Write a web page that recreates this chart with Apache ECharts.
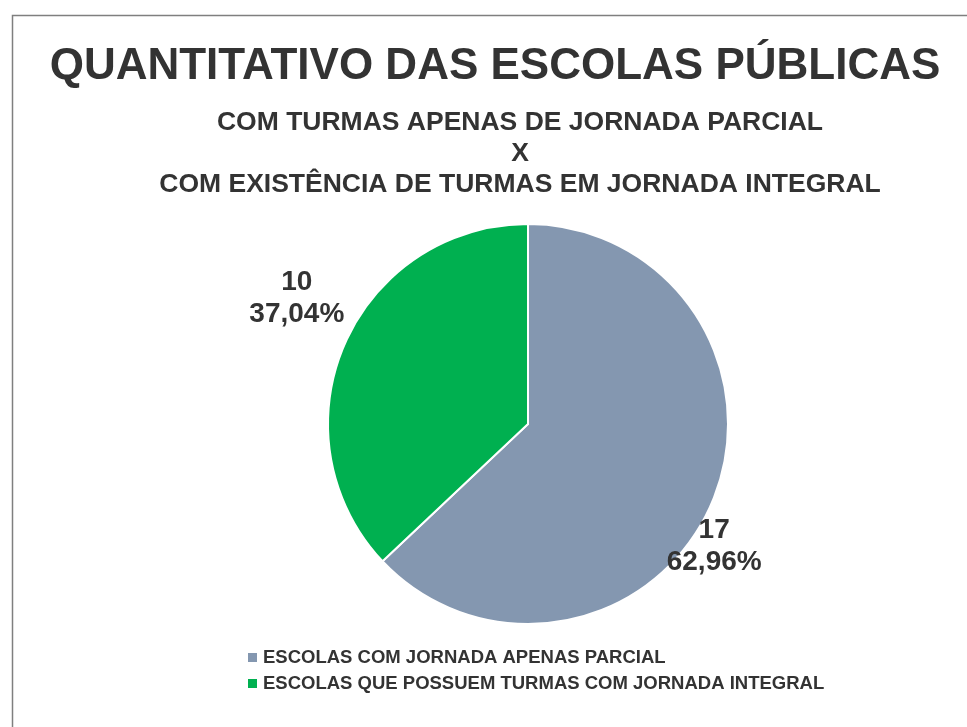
<!DOCTYPE html>
<html><head><meta charset="utf-8">
<script src="https://cdn.jsdelivr.net/npm/echarts@6/dist/echarts.min.js"></script>
<style>html,body{margin:0;padding:0;background:#fff}#c{width:967px;height:727px}</style>
</head><body><div id="c"></div>
<script>
const categories = ['ESCOLAS COM JORNADA APENAS PARCIAL', 'ESCOLAS QUE POSSUEM TURMAS COM JORNADA INTEGRAL'];
const values = [17, 10];
const colors = ['#8497b0', '#00b050'];
const titleText = 'QUANTITATIVO DAS ESCOLAS PÚBLICAS';
const subtitleLines = ['COM TURMAS APENAS DE JORNADA PARCIAL', 'X', 'COM EXISTÊNCIA DE TURMAS EM JORNADA INTEGRAL'];

const total = values.reduce((a, b) => a + b, 0);
const labelShift = [[-30, 31], [-15, -35]];
const FONT = 'Liberation Sans';
const chart = echarts.init(document.getElementById('c'));
chart.setOption({
  backgroundColor: '#fff',
  graphic: [{
    type: 'rect', left: 10, top: 13,
    shape: { width: 1000, height: 800 },
    style: { fill: 'none', stroke: '#7f7f7f', lineWidth: 1.5 }, silent: true
  }, {
    type: 'text', x: 495, y: 67, silent: true,
    style: { text: titleText, align: 'center', verticalAlign: 'middle', fill: '#333333',
      font: 'bold 44px "' + FONT + '"' }
  }, {
    type: 'text', x: 520, y: 154, silent: true,
    style: { text: subtitleLines.join('\n'), align: 'center', verticalAlign: 'middle', fill: '#333333',
      font: 'bold 26.5px "' + FONT + '"', lineHeight: 31 }
  }],
  legend: {
    orient: 'vertical', left: 241, top: 643,
    itemWidth: 11, itemHeight: 11, itemGap: 7, icon: 'rect',
    textStyle: { fontFamily: FONT, fontWeight: 'bold', fontSize: 18.5, color: '#333333' },
    data: categories
  },
  series: [{
    type: 'pie',
    center: [528, 424], radius: [0, 200],
    startAngle: 90, clockwise: true,
    itemStyle: { borderColor: '#fff', borderWidth: 2 },
    label: {
      show: true, position: 'outside',
      formatter: p => p.value + '\n' + (p.value / total * 100).toFixed(2).replace('.', ',') + '%',
      fontFamily: FONT, fontWeight: 'bold', fontSize: 28, color: '#333333',
      lineHeight: 32, align: 'center'
    },
    labelLine: { show: false, length: 30, length2: 0 },
    labelLayout: p => ({ align: 'center', dx: labelShift[p.dataIndex][0], dy: labelShift[p.dataIndex][1] }),
    emphasis: { disabled: true },
    data: categories.map((c, i) => ({ name: c, value: values[i], itemStyle: { color: colors[i] } }))
  }]
});
</script></body></html>
